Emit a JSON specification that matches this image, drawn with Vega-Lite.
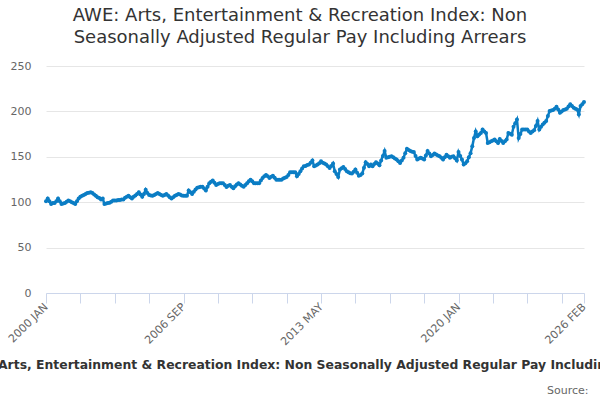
{
  "$schema": "https://vega.github.io/schema/vega-lite/v6.json",
  "width": 538,
  "height": 227,
  "autosize": "none",
  "padding": {"left": 46, "top": 66, "right": 16, "bottom": 107},
  "background": "white",
  "title": {
    "text": ["AWE: Arts, Entertainment & Recreation Index: Non", "Seasonally Adjusted Regular Pay Including Arrears"],
    "font": "DejaVu Sans",
    "fontSize": 18,
    "fontWeight": "normal",
    "color": "#333333",
    "anchor": "middle",
    "dx": -15,
    "offset": 13,
    "lineHeight": 22
  },
  "data": {
    "values": [
      {"m": "2000 JAN", "v": 101}, {"m": "2000 FEB", "v": 104}, {"m": "2000 MAR", "v": 101}, {"m": "2000 APR", "v": 98}, {"m": "2000 MAY", "v": 99}, {"m": "2000 JUN", "v": 99}, {"m": "2000 JUL", "v": 101}, {"m": "2000 AUG", "v": 104}, {"m": "2000 SEP", "v": 101}, {"m": "2000 OCT", "v": 98}, {"m": "2000 NOV", "v": 98.5}, {"m": "2000 DEC", "v": 99},
      {"m": "2001 JAN", "v": 100.5}, {"m": "2001 FEB", "v": 102}, {"m": "2001 MAR", "v": 101}, {"m": "2001 APR", "v": 100}, {"m": "2001 MAY", "v": 99}, {"m": "2001 JUN", "v": 98}, {"m": "2001 JUL", "v": 101}, {"m": "2001 AUG", "v": 104}, {"m": "2001 SEP", "v": 106}, {"m": "2001 OCT", "v": 107}, {"m": "2001 NOV", "v": 108}, {"m": "2001 DEC", "v": 109},
      {"m": "2002 JAN", "v": 110}, {"m": "2002 FEB", "v": 110.5}, {"m": "2002 MAR", "v": 111}, {"m": "2002 APR", "v": 110}, {"m": "2002 MAY", "v": 108.5}, {"m": "2002 JUN", "v": 107}, {"m": "2002 JUL", "v": 105.5}, {"m": "2002 AUG", "v": 104.5}, {"m": "2002 SEP", "v": 103}, {"m": "2002 OCT", "v": 104}, {"m": "2002 NOV", "v": 98}, {"m": "2002 DEC", "v": 98.5},
      {"m": "2003 JAN", "v": 99}, {"m": "2003 FEB", "v": 99.5}, {"m": "2003 MAR", "v": 100.5}, {"m": "2003 APR", "v": 102}, {"m": "2003 MAY", "v": 102}, {"m": "2003 JUN", "v": 102}, {"m": "2003 JUL", "v": 102.5}, {"m": "2003 AUG", "v": 102.5}, {"m": "2003 SEP", "v": 103}, {"m": "2003 OCT", "v": 103}, {"m": "2003 NOV", "v": 105}, {"m": "2003 DEC", "v": 106},
      {"m": "2004 JAN", "v": 107}, {"m": "2004 FEB", "v": 105.5}, {"m": "2004 MAR", "v": 104}, {"m": "2004 APR", "v": 106}, {"m": "2004 MAY", "v": 107.5}, {"m": "2004 JUN", "v": 109}, {"m": "2004 JUL", "v": 111}, {"m": "2004 AUG", "v": 108.5}, {"m": "2004 SEP", "v": 106}, {"m": "2004 OCT", "v": 109}, {"m": "2004 NOV", "v": 113.7}, {"m": "2004 DEC", "v": 110},
      {"m": "2005 JAN", "v": 108}, {"m": "2005 FEB", "v": 107.5}, {"m": "2005 MAR", "v": 107}, {"m": "2005 APR", "v": 108}, {"m": "2005 MAY", "v": 109}, {"m": "2005 JUN", "v": 110}, {"m": "2005 JUL", "v": 109}, {"m": "2005 AUG", "v": 108}, {"m": "2005 SEP", "v": 107}, {"m": "2005 OCT", "v": 108}, {"m": "2005 NOV", "v": 109}, {"m": "2005 DEC", "v": 107.5},
      {"m": "2006 JAN", "v": 105.5}, {"m": "2006 FEB", "v": 104}, {"m": "2006 MAR", "v": 105.5}, {"m": "2006 APR", "v": 107}, {"m": "2006 MAY", "v": 108}, {"m": "2006 JUN", "v": 109}, {"m": "2006 JUL", "v": 108.5}, {"m": "2006 AUG", "v": 107.5}, {"m": "2006 SEP", "v": 107}, {"m": "2006 OCT", "v": 107}, {"m": "2006 NOV", "v": 107}, {"m": "2006 DEC", "v": 113},
      {"m": "2007 JAN", "v": 111}, {"m": "2007 FEB", "v": 109}, {"m": "2007 MAR", "v": 111.5}, {"m": "2007 APR", "v": 114}, {"m": "2007 MAY", "v": 116}, {"m": "2007 JUN", "v": 116.5}, {"m": "2007 JUL", "v": 117}, {"m": "2007 AUG", "v": 117}, {"m": "2007 SEP", "v": 115}, {"m": "2007 OCT", "v": 113}, {"m": "2007 NOV", "v": 117}, {"m": "2007 DEC", "v": 121},
      {"m": "2008 JAN", "v": 122.5}, {"m": "2008 FEB", "v": 124}, {"m": "2008 MAR", "v": 121.5}, {"m": "2008 APR", "v": 119}, {"m": "2008 MAY", "v": 120}, {"m": "2008 JUN", "v": 121}, {"m": "2008 JUL", "v": 121}, {"m": "2008 AUG", "v": 121}, {"m": "2008 SEP", "v": 119}, {"m": "2008 OCT", "v": 116.7}, {"m": "2008 NOV", "v": 118}, {"m": "2008 DEC", "v": 119},
      {"m": "2009 JAN", "v": 117}, {"m": "2009 FEB", "v": 115.5}, {"m": "2009 MAR", "v": 117.5}, {"m": "2009 APR", "v": 119.5}, {"m": "2009 MAY", "v": 121}, {"m": "2009 JUN", "v": 119.5}, {"m": "2009 JUL", "v": 118}, {"m": "2009 AUG", "v": 117}, {"m": "2009 SEP", "v": 119}, {"m": "2009 OCT", "v": 121}, {"m": "2009 NOV", "v": 123}, {"m": "2009 DEC", "v": 124.8},
      {"m": "2010 JAN", "v": 123}, {"m": "2010 FEB", "v": 121}, {"m": "2010 MAR", "v": 121}, {"m": "2010 APR", "v": 121}, {"m": "2010 MAY", "v": 121}, {"m": "2010 JUN", "v": 124}, {"m": "2010 JUL", "v": 126.7}, {"m": "2010 AUG", "v": 128.5}, {"m": "2010 SEP", "v": 130}, {"m": "2010 OCT", "v": 128.5}, {"m": "2010 NOV", "v": 126.7}, {"m": "2010 DEC", "v": 128},
      {"m": "2011 JAN", "v": 129}, {"m": "2011 FEB", "v": 127}, {"m": "2011 MAR", "v": 124.8}, {"m": "2011 APR", "v": 124.8}, {"m": "2011 MAY", "v": 124.8}, {"m": "2011 JUN", "v": 124.8}, {"m": "2011 JUL", "v": 126}, {"m": "2011 AUG", "v": 127}, {"m": "2011 SEP", "v": 127.8}, {"m": "2011 OCT", "v": 130}, {"m": "2011 NOV", "v": 133}, {"m": "2011 DEC", "v": 133},
      {"m": "2012 JAN", "v": 133}, {"m": "2012 FEB", "v": 133}, {"m": "2012 MAR", "v": 128.5}, {"m": "2012 APR", "v": 131}, {"m": "2012 MAY", "v": 134}, {"m": "2012 JUN", "v": 137}, {"m": "2012 JUL", "v": 139.6}, {"m": "2012 AUG", "v": 140}, {"m": "2012 SEP", "v": 141}, {"m": "2012 OCT", "v": 141.5}, {"m": "2012 NOV", "v": 143.5}, {"m": "2012 DEC", "v": 146},
      {"m": "2013 JAN", "v": 139.6}, {"m": "2013 FEB", "v": 140.5}, {"m": "2013 MAR", "v": 141.5}, {"m": "2013 APR", "v": 143}, {"m": "2013 MAY", "v": 145}, {"m": "2013 JUN", "v": 143.5}, {"m": "2013 JUL", "v": 142.5}, {"m": "2013 AUG", "v": 141.5}, {"m": "2013 SEP", "v": 139.5}, {"m": "2013 OCT", "v": 137.8}, {"m": "2013 NOV", "v": 140}, {"m": "2013 DEC", "v": 142.6},
      {"m": "2014 JAN", "v": 134}, {"m": "2014 FEB", "v": 131}, {"m": "2014 MAR", "v": 127.8}, {"m": "2014 APR", "v": 136}, {"m": "2014 MAY", "v": 137.5}, {"m": "2014 JUN", "v": 138.8}, {"m": "2014 JUL", "v": 136.5}, {"m": "2014 AUG", "v": 134}, {"m": "2014 SEP", "v": 133}, {"m": "2014 OCT", "v": 132}, {"m": "2014 NOV", "v": 131.5}, {"m": "2014 DEC", "v": 133.5},
      {"m": "2015 JAN", "v": 136}, {"m": "2015 FEB", "v": 132.5}, {"m": "2015 MAR", "v": 129.2}, {"m": "2015 APR", "v": 130}, {"m": "2015 MAY", "v": 131.5}, {"m": "2015 JUN", "v": 138}, {"m": "2015 JUL", "v": 144}, {"m": "2015 AUG", "v": 142}, {"m": "2015 SEP", "v": 139.6}, {"m": "2015 OCT", "v": 141.5}, {"m": "2015 NOV", "v": 139.6}, {"m": "2015 DEC", "v": 142},
      {"m": "2016 JAN", "v": 144}, {"m": "2016 FEB", "v": 142.5}, {"m": "2016 MAR", "v": 140.7}, {"m": "2016 APR", "v": 146}, {"m": "2016 MAY", "v": 151}, {"m": "2016 JUN", "v": 156.3}, {"m": "2016 JUL", "v": 149}, {"m": "2016 AUG", "v": 149.5}, {"m": "2016 SEP", "v": 150}, {"m": "2016 OCT", "v": 150.7}, {"m": "2016 NOV", "v": 149.5}, {"m": "2016 DEC", "v": 148},
      {"m": "2017 JAN", "v": 147}, {"m": "2017 FEB", "v": 145}, {"m": "2017 MAR", "v": 143.3}, {"m": "2017 APR", "v": 146}, {"m": "2017 MAY", "v": 149}, {"m": "2017 JUN", "v": 154}, {"m": "2017 JUL", "v": 158.9}, {"m": "2017 AUG", "v": 157.5}, {"m": "2017 SEP", "v": 156.3}, {"m": "2017 OCT", "v": 155.5}, {"m": "2017 NOV", "v": 155.2}, {"m": "2017 DEC", "v": 151},
      {"m": "2018 JAN", "v": 147}, {"m": "2018 FEB", "v": 148}, {"m": "2018 MAR", "v": 149}, {"m": "2018 APR", "v": 148}, {"m": "2018 MAY", "v": 147}, {"m": "2018 JUN", "v": 151.5}, {"m": "2018 JUL", "v": 156.3}, {"m": "2018 AUG", "v": 153.5}, {"m": "2018 SEP", "v": 150.7}, {"m": "2018 OCT", "v": 152}, {"m": "2018 NOV", "v": 153.7}, {"m": "2018 DEC", "v": 152.5},
      {"m": "2019 JAN", "v": 151.5}, {"m": "2019 FEB", "v": 150.7}, {"m": "2019 MAR", "v": 149}, {"m": "2019 APR", "v": 147}, {"m": "2019 MAY", "v": 149.5}, {"m": "2019 JUN", "v": 152.2}, {"m": "2019 JUL", "v": 150.5}, {"m": "2019 AUG", "v": 149}, {"m": "2019 SEP", "v": 150}, {"m": "2019 OCT", "v": 150.7}, {"m": "2019 NOV", "v": 148.5}, {"m": "2019 DEC", "v": 146},
      {"m": "2020 JAN", "v": 155.2}, {"m": "2020 FEB", "v": 151}, {"m": "2020 MAR", "v": 147}, {"m": "2020 APR", "v": 141.5}, {"m": "2020 MAY", "v": 143}, {"m": "2020 JUN", "v": 145}, {"m": "2020 JUL", "v": 149.5}, {"m": "2020 AUG", "v": 154}, {"m": "2020 SEP", "v": 161.5}, {"m": "2020 OCT", "v": 170.7}, {"m": "2020 NOV", "v": 178}, {"m": "2020 DEC", "v": 172.6},
      {"m": "2021 JAN", "v": 174.5}, {"m": "2021 FEB", "v": 176.3}, {"m": "2021 MAR", "v": 180}, {"m": "2021 APR", "v": 178}, {"m": "2021 MAY", "v": 176.3}, {"m": "2021 JUN", "v": 165.2}, {"m": "2021 JUL", "v": 166}, {"m": "2021 AUG", "v": 167}, {"m": "2021 SEP", "v": 168}, {"m": "2021 OCT", "v": 169}, {"m": "2021 NOV", "v": 167}, {"m": "2021 DEC", "v": 165.2},
      {"m": "2022 JAN", "v": 169.6}, {"m": "2022 FEB", "v": 167.5}, {"m": "2022 MAR", "v": 165.2}, {"m": "2022 APR", "v": 167}, {"m": "2022 MAY", "v": 169}, {"m": "2022 JUN", "v": 176.3}, {"m": "2022 JUL", "v": 175.5}, {"m": "2022 AUG", "v": 174.4}, {"m": "2022 SEP", "v": 183}, {"m": "2022 OCT", "v": 187}, {"m": "2022 NOV", "v": 191}, {"m": "2022 DEC", "v": 170.7},
      {"m": "2023 JAN", "v": 175}, {"m": "2023 FEB", "v": 180}, {"m": "2023 MAR", "v": 180}, {"m": "2023 APR", "v": 180}, {"m": "2023 MAY", "v": 180}, {"m": "2023 JUN", "v": 178}, {"m": "2023 JUL", "v": 176.3}, {"m": "2023 AUG", "v": 178}, {"m": "2023 SEP", "v": 179.3}, {"m": "2023 OCT", "v": 184}, {"m": "2023 NOV", "v": 189.3}, {"m": "2023 DEC", "v": 180},
      {"m": "2024 JAN", "v": 183}, {"m": "2024 FEB", "v": 185.6}, {"m": "2024 MAR", "v": 187.5}, {"m": "2024 APR", "v": 189.3}, {"m": "2024 MAY", "v": 195}, {"m": "2024 JUN", "v": 200.4}, {"m": "2024 JUL", "v": 201}, {"m": "2024 AUG", "v": 201.5}, {"m": "2024 SEP", "v": 203}, {"m": "2024 OCT", "v": 205}, {"m": "2024 NOV", "v": 202}, {"m": "2024 DEC", "v": 198.5},
      {"m": "2025 JAN", "v": 200}, {"m": "2025 FEB", "v": 201.5}, {"m": "2025 MAR", "v": 202}, {"m": "2025 APR", "v": 203}, {"m": "2025 MAY", "v": 205.5}, {"m": "2025 JUN", "v": 207.8}, {"m": "2025 JUL", "v": 206}, {"m": "2025 AUG", "v": 204}, {"m": "2025 SEP", "v": 203}, {"m": "2025 OCT", "v": 202.2}, {"m": "2025 NOV", "v": 196.7}, {"m": "2025 DEC", "v": 205.9},
      {"m": "2026 JAN", "v": 208}, {"m": "2026 FEB", "v": 210.4}
    ]
  },
  "mark": {
    "type": "line",
    "color": "#0b7dc4",
    "strokeWidth": 2.5,
    "point": {"filled": true, "size": 16, "color": "#0b7dc4"}
  },
  "encoding": {
    "x": {
      "field": "m",
      "type": "ordinal",
      "sort": null,
      "scale": {"type": "point", "padding": 0},
      "axis": {
        "values": ["2000 JAN", "2001 SEP", "2003 MAY", "2005 JAN", "2006 SEP", "2008 MAY", "2010 JAN", "2011 SEP", "2013 MAY", "2015 JAN", "2016 SEP", "2018 MAY", "2020 JAN", "2021 SEP", "2023 MAY", "2025 JAN", "2026 FEB"],
        "labelExpr": "indexof(['2000 JAN', '2006 SEP', '2013 MAY', '2020 JAN', '2026 FEB'], datum.value) >= 0 ? datum.value : ''",
        "labelAngle": -45,
        "labelAlign": "right",
        "labelBaseline": "middle",
        "labelPadding": 2,
        "labelFont": "DejaVu Sans",
        "labelFontSize": 11,
        "labelColor": "#666666",
        "labelOverlap": false,
        "domainColor": "#ccd6eb",
        "tickColor": "#ccd6eb",
        "tickSize": 10,
        "grid": false,
        "title": "AWE: Arts, Entertainment & Recreation Index: Non Seasonally Adjusted Regular Pay Including Arrears",
        "titleFont": "DejaVu Sans",
        "titleFontSize": 12.4,
        "titleFontWeight": "bold",
        "titleColor": "#333333",
        "titleAlign": "center",
        "titleBaseline": "alphabetic",
        "titleX": 268,
        "titleY": 75
      }
    },
    "y": {
      "field": "v",
      "type": "quantitative",
      "scale": {"domain": [0, 250], "nice": false},
      "axis": {
        "values": [0, 50, 100, 150, 200, 250],
        "domain": false,
        "ticks": false,
        "labelPadding": 15,
        "labelFont": "DejaVu Sans",
        "labelFontSize": 11,
        "labelColor": "#666666",
        "gridColor": "#e6e6e6",
        "title": "Source:",
        "titleAngle": 0,
        "titleAlign": "right",
        "titleBaseline": "alphabetic",
        "titleX": 542,
        "titleY": 327,
        "titleFont": "DejaVu Sans",
        "titleFontSize": 11,
        "titleFontWeight": "normal",
        "titleColor": "#666666"
      }
    }
  },
  "config": {"view": {"stroke": null}}
}
